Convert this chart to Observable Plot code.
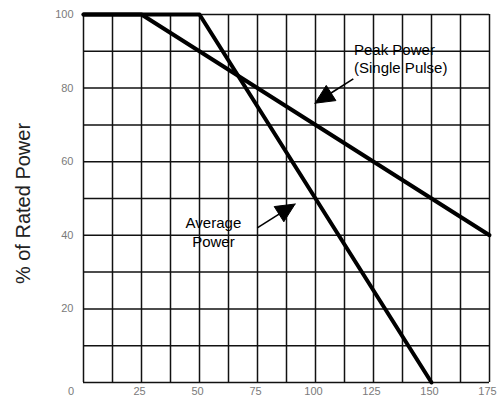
<!DOCTYPE html>
<html>
<head>
<meta charset="utf-8">
<script src="https://cdn.jsdelivr.net/npm/d3@7"></script>
<script src="https://cdn.jsdelivr.net/npm/@observablehq/plot@0.6"></script>
<style>
  html, body { margin: 0; padding: 0; background: #fff; }
  #chart { width: 498px; height: 402px; }
</style>
</head>
<body>
<div id="chart"></div>
<script>
// ---- data ----
const peakX = [0, 25, 175];
const peakY = [100, 100, 40];
const avgX = [0, 50, 150];
const avgY = [100, 100, 0];

const xGrid = [0, 12.5, 25, 37.5, 50, 62.5, 75, 87.5, 100, 112.5, 125, 137.5, 150, 162.5, 175];
const yGrid = [0, 10, 20, 30, 40, 50, 60, 70, 80, 90, 100];
const xTickLabels = [25, 50, 75, 100, 125, 150, 175];
const yTickLabels = [20, 40, 60, 80, 100];
const originLabel = ["0"];
const yTitle = "% of Rated Power";

// annotations (data units)
const peakText = "Peak Power\n(Single Pulse)";
const peakTextPos = [116.6, 88.2];
const peakArrowTail = [116.3, 82.5];
const peakArrowTip = [99.8, 75.9];

const avgText = "Average\nPower";
const avgTextPos = [56.0, 41.1];
const avgArrowTail = [74.9, 42.0];
const avgArrowTip = [91.2, 48.5];

// ---- layout ----
const W = 498, H = 402;
const mL = 83, mR = 9, mT = 14, mB = 20;
const xDomain = [0, 175], yDomain = [0, 100];
const kx = (W - mL - mR) / (xDomain[1] - xDomain[0]);
const ky = (H - mT - mB) / (yDomain[1] - yDomain[0]);

const headLen = 19, headWidth = 18;

function arrowGeom(id, tail, tip) {
  const dxp = (tip[0] - tail[0]) * kx;
  const dyp = -(tip[1] - tail[1]) * ky;
  const len = Math.hypot(dxp, dyp);
  const ux = dxp / len, uy = dyp / len;   // pixel direction (y down)
  const nx = -uy, ny = ux;
  const toData = (px, py) => [tip[0] + px / kx, tip[1] - py / ky];
  const base = toData(-ux * headLen, -uy * headLen);
  const b1 = toData(-ux * headLen + nx * headWidth / 2, -uy * headLen + ny * headWidth / 2);
  const b2 = toData(-ux * headLen - nx * headWidth / 2, -uy * headLen - ny * headWidth / 2);
  return {
    link: {x1: tail[0], y1: tail[1], x2: base[0], y2: base[1]},
    head: [tip, b1, b2, tip].map(([x, y]) => ({id, x, y}))
  };
}
const arrows = [arrowGeom("peak", peakArrowTail, peakArrowTip), arrowGeom("avg", avgArrowTail, avgArrowTip)];
const links = arrows.map(a => a.link);
const heads = arrows.flatMap(a => a.head);

const peak = peakX.map((x, i) => ({x, y: peakY[i]}));
const avg = avgX.map((x, i) => ({x, y: avgY[i]}));

const font = "'Liberation Sans', Arial, sans-serif";

const chart = Plot.plot({
  width: W,
  height: H,
  marginLeft: mL,
  marginRight: mR,
  marginTop: mT,
  marginBottom: mB,
  style: {fontFamily: font, background: "#fff", overflow: "visible"},
  x: {domain: xDomain},
  y: {domain: yDomain},
  marks: [
    Plot.ruleX(xGrid, {stroke: "#111", strokeWidth: 1.5}),
    Plot.ruleY(yGrid, {stroke: "#111", strokeWidth: 1.5}),
    Plot.axisY(yTickLabels, {tickSize: 0, tickPadding: 10, fontSize: 11, color: "#7a7a7a", label: null}),
    Plot.axisX(xTickLabels, {tickSize: 0, tickPadding: 5, fontSize: 11, color: "#7a7a7a", label: null, dx: -2}),
    Plot.text(originLabel, {x: [0], frameAnchor: "bottom", lineAnchor: "top", dy: 5, dx: -12.5, fontSize: 11, fill: "#7a7a7a"}),
    Plot.text([yTitle], {frameAnchor: "left", textAnchor: "middle", rotate: -90, dx: -60, dy: 5, fontSize: 20, fill: "#222"}),
    Plot.line(peak, {x: "x", y: "y", stroke: "#000", strokeWidth: 4}),
    Plot.line(avg, {x: "x", y: "y", stroke: "#000", strokeWidth: 4}),
    Plot.text([peakText], {x: [peakTextPos[0]], y: [peakTextPos[1]], textAnchor: "start", lineAnchor: "middle", lineHeight: 1.25, fontSize: 15, fill: "#000"}),
    Plot.text([avgText], {x: [avgTextPos[0]], y: [avgTextPos[1]], textAnchor: "middle", lineAnchor: "middle", lineHeight: 1.27, fontSize: 15, fill: "#000"}),
    Plot.link(links, {x1: "x1", y1: "y1", x2: "x2", y2: "y2", stroke: "#000", strokeWidth: 1.6}),
    Plot.line(heads, {x: "x", y: "y", z: "id", fill: "#000", stroke: "#000", strokeWidth: 1, strokeLinejoin: "miter"})
  ]
});
document.getElementById("chart").appendChild(chart);
</script>
</body>
</html>
